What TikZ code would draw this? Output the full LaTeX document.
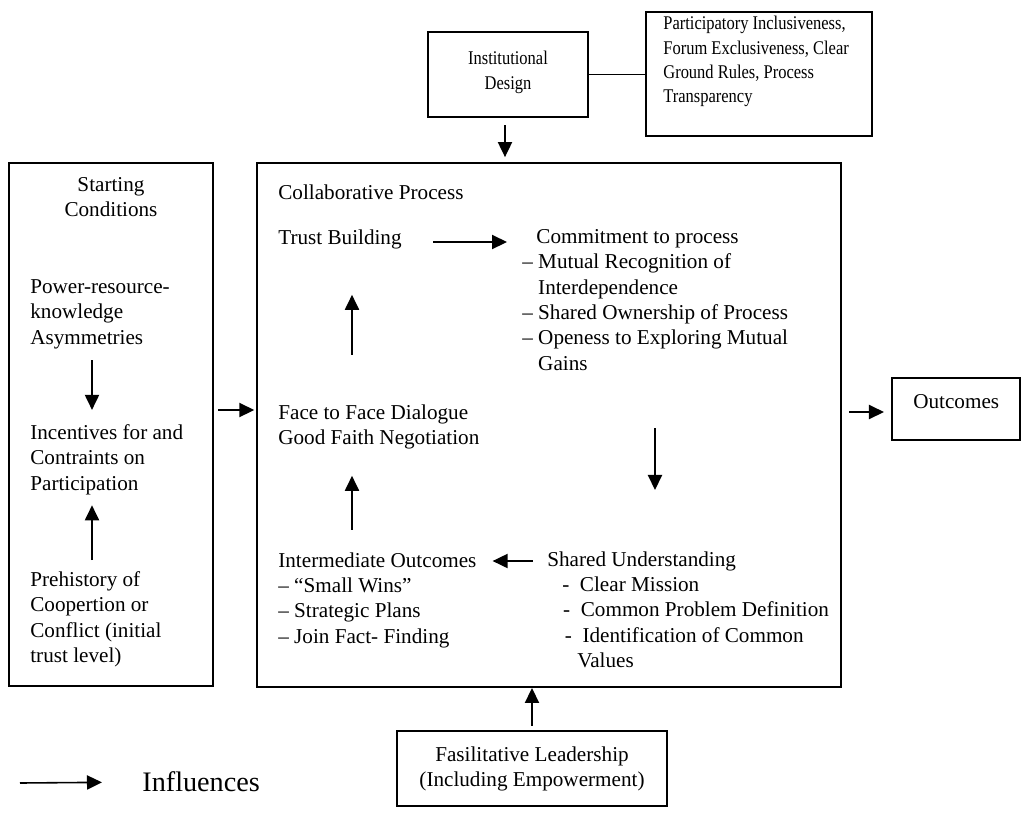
\documentclass[tikz,border=0pt]{standalone}
\usepackage{fontspec}
\setmainfont{Liberation Serif}
\newfontfamily\narrowfont{Liberation Serif}[FakeStretch=0.85]
\usetikzlibrary{arrows.meta,fit}

\begin{document}
\begin{tikzpicture}[
        x=0.567pt, y=-0.567pt,
        box/.style={draw, line width=1.1pt, inner sep=0pt},
        body_text/.style={inner sep=0pt, align=left, anchor=north west, font=\fontsize{12}{14.4}\selectfont},
        centre_text/.style={body_text, align=center, anchor=north},
        small_text/.style={font=\narrowfont\fontsize{11}{13.8}\selectfont},
        flow_arrow/.style={-{Triangle[length=8.5pt,width=8pt]}, line width=0.9pt}
    ]
        \useasboundingbox (0,0) rectangle (1021,812);

        % Outer boxes
        \node[box, fit={(9,163) (213,686)}] (start_box) {};
        \node[box, fit={(257,163) (841,687)}] (collab_box) {};
        \node[box, fit={(428,32) (588,117)}] (inst_box) {};
        \node[box, fit={(646,12) (872,136)}] (rules_box) {};
        \node[box, fit={(892,378) (1020,440)}] (outcome_box) {};
        \node[box, fit={(397,731) (667,806)}] (lead_box) {};

        % Top boxes
        \node[centre_text, small_text] (inst_text) at (508,51) {Institutional\\Design};
        \node[body_text, small_text] (rules_text) at (663,16) {Participatory Inclusiveness,\\Forum Exclusiveness, Clear\\Ground Rules, Process\\Transparency};

        % Starting conditions
        \node[centre_text] (start_title) at (111,177) {Starting\\Conditions};
        \node[body_text] (power) at (30,279) {Power-resource-\\knowledge\\Asymmetries};
        \node[body_text] (incentives) at (30,424) {Incentives for and\\Contraints on\\Participation};
        \node[body_text] (prehistory) at (30,571) {Prehistory of\\Coopertion or\\Conflict (initial\\trust level)};

        % Collaborative process
        \node[body_text] (collab_title) at (278,184) {Collaborative Process};
        \node[body_text] (trust) at (278,229) {Trust Building};
        \node[body_text] (commitment) at (522,229) {\hspace{8pt}Commitment to process\\– Mutual Recognition of\\\phantom{– }Interdependence\\– Shared Ownership of Process\\– Openess to Exploring Mutual\\\phantom{– }Gains};
        \node[body_text] (dialogue) at (278,404) {Face to Face Dialogue\\Good Faith Negotiation};
        \node[body_text] (intermediate) at (278,552) {Intermediate Outcomes\\– “Small Wins”\\– Strategic Plans\\– Join Fact- Finding};
        \node[body_text] (shared) at (547,551) {Shared Understanding\\\hspace{8.5pt}-\ \ Clear Mission\\\hspace{9pt}-\ \ Common Problem Definition\\\hspace{10pt}-\ \ Identification of Common\\\hspace{17pt}Values};

        % Outcomes and leadership
        \node[body_text] (outcome_text) at (913,394) {Outcomes};
        \node[centre_text] (lead_text) at (532,746) {Fasilitative Leadership\\(Including Empowerment)};

        % Legend
        \node[anchor=west, inner sep=0pt, font=\fontsize{16}{19}\selectfont] (legend) at (142,782) {Influences};
        \coordinate (legend_tail) at (20,783);

        % Connections between boxes
        \draw[line width=1.1pt] (inst_box.east) -- (rules_box.west |- inst_box.east);
        \draw[flow_arrow, shorten <=4pt, shorten >=2.8pt] (inst_box.south -| 505,0) -- (collab_box.north -| 505,0);
        \draw[flow_arrow, shorten <=2.3pt, shorten >=1pt] (start_box.east |- 0,410) -- (collab_box.west |- 0,410);
        \draw[flow_arrow, shorten <=4pt, shorten >=4pt] (collab_box.east |- 0,412) -- (outcome_box.west |- 0,412);
        \draw[flow_arrow, shorten <=2.3pt] (lead_box.north) -- (collab_box.south -| lead_box.north);

        % Connections inside the boxes
        \draw[flow_arrow, shorten <=6.4pt, shorten >=8pt] (power.south -| 92,0) -- (incentives.north -| 92,0);
        \draw[flow_arrow, shorten <=6.2pt, shorten >=5.9pt] (prehistory.north -| 92,0) -- (incentives.south -| 92,0);
        \draw[flow_arrow, shorten <=17.6pt, shorten >=8.5pt] (trust.east |- 0,242) -- (commitment.west |- 0,242);
        \draw[flow_arrow, shorten <=32.5pt, shorten >=34.6pt] (commitment.south -| 655,0) -- (shared.north -| 655,0);
        \draw[flow_arrow, shorten <=8pt, shorten >=9pt] (shared.west |- 0,561) -- (intermediate.east |- 0,561);
        \draw[flow_arrow, shorten <=12.5pt, shorten >=15pt] (intermediate.north -| 352,0) -- (dialogue.south -| 352,0);
        \draw[flow_arrow, shorten <=28pt, shorten >=26pt] (dialogue.north -| 352,0) -- (trust.south -| 352,0);
        \draw[flow_arrow, shorten >=22.7pt] (legend_tail) -- (legend.west);

    \end{tikzpicture}
\end{document}
